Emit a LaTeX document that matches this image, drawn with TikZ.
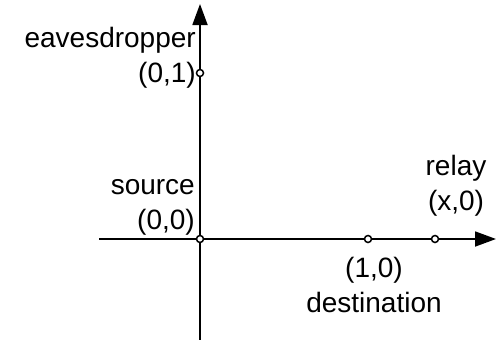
\documentclass[tikz,border=0pt]{standalone}
\usepackage{fontspec}
\setmainfont{Liberation Sans}
\usetikzlibrary{arrows.meta}

\begin{document}
\begin{tikzpicture}[
  x=1pt, y=-1pt,
  font=\fontsize{28}{35}\selectfont,
  axis/.style={line width=1.8pt, -{Triangle[length=21pt,width=15pt]}},
  pnt/.style={circle, draw, line width=1.5pt, fill=white, inner sep=0pt, minimum size=7pt},
  lbl/.style={inner sep=0pt}
]
\useasboundingbox (0,0) rectangle (496,340);
% axes
\coordinate (xl) at (99,239);
\coordinate (xr) at (496,239);
\coordinate (yb) at (200,340);
\coordinate (yt) at (200,4);
\draw[axis] (xl) -- (xr);
\draw[axis] (yb) -- (yt);
% points
\node[pnt] (src)  at (200,239) {};
\node[pnt] (dest) at (368,239) {};
\node[pnt] (rel)  at (435,239) {};
\node[pnt] (eve)  at (200,73)  {};
% labels
\node[lbl, align=right, anchor=base east] (evel) at (196,82) {eavesdropper\\(0,1)};
\node[lbl, align=right, anchor=base east] (srcl) at (195,229) {source\\(0,0)};
\node[lbl, align=center, anchor=base] (destl) at (374,312) {(1,0)\\destination};
\node[lbl, align=center, anchor=base] (rell) at (456,210) {relay\\(x,0)};
\end{tikzpicture}
\end{document}
